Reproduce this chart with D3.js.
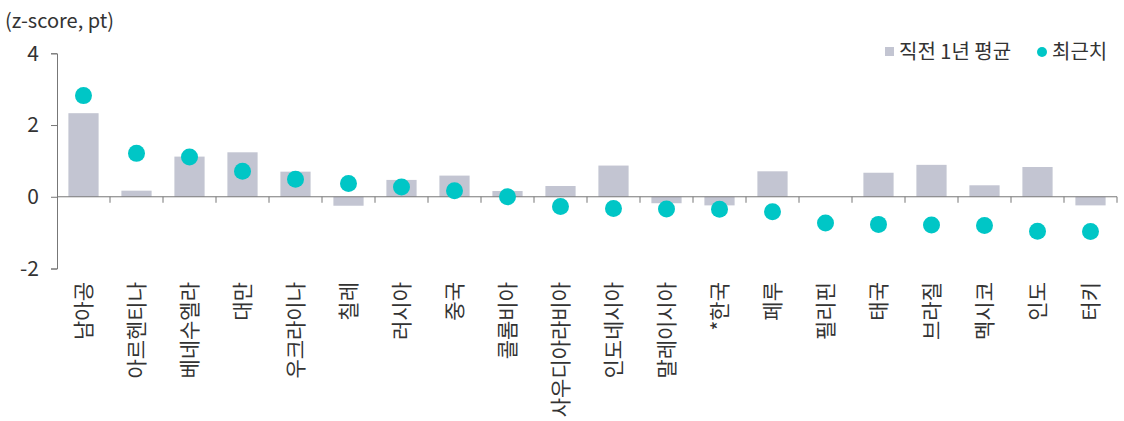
<!DOCTYPE html>
<html>
<head>
<meta charset="utf-8">
<script src="https://cdn.jsdelivr.net/npm/d3@7"></script>
<style>
  html, body { margin: 0; padding: 0; background: #fff; }
  svg text { font-family: "Noto Sans CJK KR", "Noto Sans", sans-serif; fill: #333; }
</style>
</head>
<body>
<svg id="chart" width="1124" height="421"></svg>
<script>
const categories = ["남아공", "아르헨티나", "베네수엘라", "대만", "우크라이나", "칠레", "러시아", "중국",
  "콜롬비아", "사우디아라비아", "인도네시아", "말레이시아", "*한국", "페루", "필리핀", "태국",
  "브라질", "멕시코", "인도", "터키"];
const avgPrevYear = [2.33, 0.17, 1.12, 1.24, 0.70, -0.25, 0.47, 0.59, 0.16, 0.30, 0.87, -0.18,
  -0.24, 0.71, 0.0, 0.67, 0.89, 0.32, 0.83, -0.24];
const latest = [2.82, 1.21, 1.11, 0.71, 0.49, 0.37, 0.27, 0.17, 0.0, -0.27, -0.33, -0.34,
  -0.35, -0.42, -0.73, -0.77, -0.79, -0.80, -0.96, -0.97];
const yTicks = [4, 2, 0, -2];
const seriesNames = ["직전 1년 평균", "최근치"];

const barColor = "#c3c5d2";
const dotColor = "#00c6c6";
const axisColor = "#777";

const svg = d3.select("#chart");

const x = d3.scaleBand().domain(categories).range([57, 1117]).paddingInner(0).paddingOuter(0);
const y = d3.scaleLinear().domain([-2, 4]).range([268.5, 53.3]);

// unit label
svg.append("text").attr("x", 5).attr("y", 28).attr("font-size", 20).text("(z-score, pt)");

// y axis
const yAxis = svg.append("g").attr("transform", "translate(57,0)")
  .call(d3.axisLeft(y).tickValues(yTicks).tickSize(6).tickPadding(12).tickFormat((d) => String(d)));
yAxis.select(".domain").attr("stroke", axisColor);
yAxis.selectAll(".tick line").attr("stroke", axisColor);
yAxis.selectAll(".tick text").attr("font-size", 21).attr("fill", "#333")
  .attr("font-family", "'Noto Sans CJK KR', sans-serif");

// bars
const barW = x.bandwidth() * 0.57;
svg.append("g").selectAll("rect").data(categories).join("rect")
  .attr("x", (d) => x(d) + (x.bandwidth() - barW) / 2)
  .attr("width", barW)
  .attr("y", (d, i) => y(Math.max(0, avgPrevYear[i])))
  .attr("height", (d, i) => Math.abs(y(avgPrevYear[i]) - y(0)))
  .attr("fill", barColor);

// x axis at zero with ticks on category boundaries
const xg = svg.append("g").attr("transform", `translate(0,${y(0)})`);
xg.append("line").attr("x1", 57).attr("x2", 1117).attr("stroke", axisColor);
const bounds = categories.map((d) => x(d)).slice(1).concat([x.range()[1]]);
xg.selectAll("line.tk").data(bounds).join("line").attr("class", "tk")
  .attr("x1", (d) => d).attr("x2", (d) => d).attr("y1", 0).attr("y2", 6).attr("stroke", axisColor);

// category labels
svg.append("g").selectAll("text").data(categories).join("text")
  .attr("transform", (d) => `translate(${x(d) + x.bandwidth() / 2},282) rotate(-90)`)
  .attr("text-anchor", "end")
  .attr("dy", "0.35em")
  .attr("font-size", 21)
  .text((d) => d);

// latest values
svg.append("g").selectAll("circle").data(categories).join("circle")
  .attr("cx", (d) => x(d) + x.bandwidth() / 2)
  .attr("cy", (d, i) => y(latest[i]))
  .attr("r", 8.5)
  .attr("fill", dotColor);

// legend
const lg = svg.append("g");
lg.append("rect").attr("x", 885).attr("y", 47).attr("width", 9).attr("height", 9).attr("fill", barColor);
lg.append("text").attr("x", 899).attr("y", 59).attr("font-size", 20).text(seriesNames[0]);
lg.append("circle").attr("cx", 1042).attr("cy", 52).attr("r", 5).attr("fill", dotColor);
lg.append("text").attr("x", 1052).attr("y", 59).attr("font-size", 20).text(seriesNames[1]);
</script>
</body>
</html>
